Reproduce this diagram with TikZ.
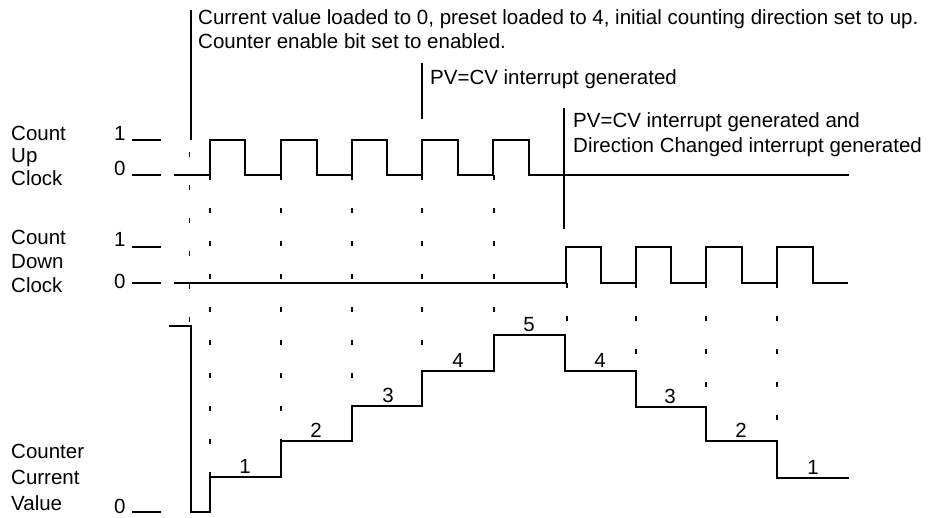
\documentclass[tikz,border=0pt]{standalone}
\usepackage{fontspec}
\setmainfont{Liberation Sans}
\begin{document}
\begin{tikzpicture}[x=1pt,y=-1pt,
  sig/.style={line width=1.2pt, line join=miter},
  ann/.style={line width=1.4pt},
  tick/.style={line width=1.1pt, dash pattern=on 5pt off 28pt},
  txt/.style={anchor=base west, inner sep=0pt, font=\fontsize{20.5}{24}\selectfont},
  dig/.style={anchor=base, inner sep=0pt, font=\fontsize{20.5}{24}\selectfont}]
\useasboundingbox (0,0) rectangle (933,517);

% side labels
\node[txt] (u1) at (11,140) {Count};
\node[txt] (u2) at (11,162) {Up};
\node[txt] (u3) at (11,185) {Clock};
\node[txt] (d1) at (11,244) {Count};
\node[txt] (d2) at (11,268) {Down};
\node[txt] (d3) at (11,292) {Clock};
\node[txt] (c1) at (11,458) {Counter};
\node[txt] (c2) at (11,484) {Current};
\node[txt] (c3) at (11,510) {Value};

% level marks
\node[txt] (lu1) at (114,140) {1};
\node[txt] (lu0) at (114,175) {0};
\node[txt] (ld1) at (114,246) {1};
\node[txt] (ld0) at (114,288) {0};
\node[txt] (lc0) at (114,513) {0};
\draw[sig] (132,140) -- (161,140);
\draw[sig] (132,175) -- (161,175);
\draw[sig] (132,247) -- (161,247);
\draw[sig] (132,283) -- (161,283);
\draw[sig] (132,512) -- (161,512);

% annotations
\node[txt] (a1) at (198,24) {Current value loaded to 0, preset loaded to 4, initial counting direction set to up.};
\node[txt] (a1b) at (198,48) {Counter enable bit set to enabled.};
\node[txt] (a2) at (430,84) {PV=CV interrupt generated};
\node[txt] (a3) at (573,127) {PV=CV interrupt generated and};
\node[txt] (a3b) at (573,152) {Direction Changed interrupt generated};
\draw[ann] (191,10) -- (191,140);
\draw[ann] (422,63) -- (422,119);
\draw[ann] (564,108) -- (564,229);

% count up clock
\draw[sig] (174,175) -- (210,175) -- (210,140) -- (245,140) -- (245,175)
  -- (281,175) -- (281,140) -- (317,140) -- (317,175)
  -- (352,175) -- (352,140) -- (387,140) -- (387,175)
  -- (422,175) -- (422,140) -- (458,140) -- (458,175)
  -- (493,175) -- (493,140) -- (529,140) -- (529,175) -- (849,175);

% count down clock
\draw[sig] (174,283) -- (566,283) -- (566,247) -- (601,247) -- (601,283)
  -- (636,283) -- (636,247) -- (671,247) -- (671,283)
  -- (706,283) -- (706,247) -- (742,247) -- (742,283)
  -- (777,283) -- (777,247) -- (813,247) -- (813,283) -- (848,283);

% counter current value
\draw[sig] (169,326) -- (191,326) -- (191,512) -- (210,512) -- (210,477)
  -- (281,477) -- (281,441) -- (352,441) -- (352,406) -- (422,406)
  -- (422,371) -- (494,371) -- (494,335) -- (565,335) -- (565,371)
  -- (636,371) -- (636,407) -- (706,407) -- (706,441) -- (777,441)
  -- (777,478) -- (849,478);

% dashed guides
\draw[tick] (189.5,152) -- (189.5,326);
\draw[tick] (210,175) -- (210,477);
\draw[tick] (281,175) -- (281,441);
\draw[tick] (352,175) -- (352,406);
\draw[tick] (422,175) -- (422,371);
\draw[tick] (494,175) -- (494,335);
\draw[tick] (567,283) -- (567,335);
\draw[tick] (636,283) -- (636,371);
\draw[tick] (706,283) -- (706,407);
\draw[tick] (777,283) -- (777,441);

% counter values
\node[dig] (v1) at (245,473) {1};
\node[dig] (v2) at (316,437) {2};
\node[dig] (v3) at (388,402) {3};
\node[dig] (v4) at (458,367) {4};
\node[dig] (v5) at (529,331) {5};
\node[dig] (v6) at (600,367) {4};
\node[dig] (v7) at (670,403) {3};
\node[dig] (v8) at (741,437) {2};
\node[dig] (v9) at (813,474) {1};
\end{tikzpicture}
\end{document}
